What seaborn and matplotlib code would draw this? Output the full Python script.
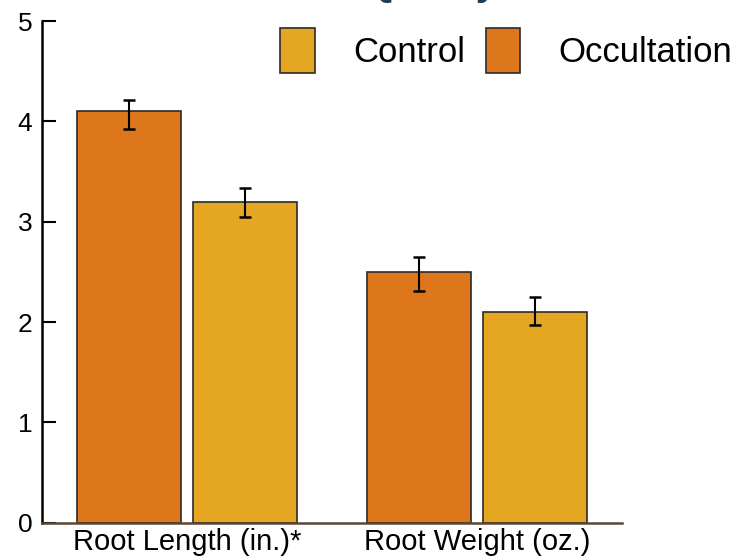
import numpy as np
import pandas as pd
import matplotlib
matplotlib.use("Agg")
import matplotlib.pyplot as plt
from matplotlib.patches import Patch
import seaborn as sns

# values
measures = ["Root Length (in.)*", "Root Weight (oz.)"]
treatments = ["Occultation", "Control"]
occultation = [4.10, 2.50]
control = [3.20, 2.10]
# error bar bounds (low, high)
occultation_lo = [3.92, 2.31]
occultation_hi = [4.21, 2.65]
control_lo = [3.05, 1.97]
control_hi = [3.34, 2.25]

colors = {"Occultation": "#DE761C", "Control": "#E5A722"}

df = pd.DataFrame({
    "measure": measures * 2,
    "treatment": ["Occultation"] * 2 + ["Control"] * 2,
    "value": occultation + control,
    "lo": occultation_lo + control_lo,
    "hi": occultation_hi + control_hi,
})

sns.set_style("white")
plt.rcParams["font.family"] = ["Liberation Sans", "DejaVu Sans"]
plt.rcParams["text.color"] = "black"
plt.rcParams["xtick.color"] = "black"
plt.rcParams["ytick.color"] = "black"

fig = plt.figure(figsize=(7.47, 5.57), dpi=100)
ax = fig.add_axes([42 / 747, 1 - 522.7 / 557, 580 / 747, 501.7 / 557])

sns.barplot(data=df, x="measure", y="value", hue="treatment",
            hue_order=treatments, order=measures, palette=colors,
            saturation=1, width=0.8, gap=0.1, errorbar=None,
            edgecolor="#2b2b2b", linewidth=1.2, legend=False, ax=ax)

# asymmetric error bars on each bar
for cont, t in zip(ax.containers, treatments):
    sub = df[df["treatment"] == t].set_index("measure").loc[measures]
    xs = [p.get_x() + p.get_width() / 2 for p in cont.patches]
    ys = [p.get_height() for p in cont.patches]
    yerr = [sub["value"] - sub["lo"], sub["hi"] - sub["value"]]
    ax.errorbar(xs, ys, yerr=yerr, fmt="none", ecolor="black",
                elinewidth=1.5, capsize=4, capthick=1.8, zorder=5)

ax.set_xlim(-0.5, 1.5)
ax.set_ylim(0, 5)
ax.set_yticks([0, 1, 2, 3, 4, 5])
ax.set_xlabel("")
ax.set_ylabel("")

# labels sit on minor ticks, group separators are major ticks
ax.set_xticks([0.5, 1.5])
ax.set_xticklabels([])
ax.set_xticks([0, 1], minor=True)
ax.set_xticklabels(measures, minor=True, fontsize=21)
ax.tick_params(axis="x", which="major", direction="in", length=8, width=1.5, color="black")
ax.tick_params(axis="x", which="minor", length=0, pad=4)
ax.tick_params(axis="y", direction="in", length=10, width=1.5, labelsize=19, pad=7, left=True)

for s in ["top", "right"]:
    ax.spines[s].set_visible(False)
ax.spines["left"].set_color("black")
ax.spines["left"].set_linewidth(1.8)
ax.spines["bottom"].set_color("#5C4632")
ax.spines["bottom"].set_linewidth(1.8)

handles = [Patch(facecolor=colors[t], edgecolor="#2b2b2b", linewidth=1.2) for t in ["Control", "Occultation"]]
fig.legend(handles, ["Control", "Occultation"], loc="upper left",
           bbox_to_anchor=(280 / 747, 1 - 28 / 557), ncol=2, frameon=False,
           fontsize=25, handlelength=1.0, handleheight=1.6, handletextpad=1.1,
           columnspacing=0.6, borderpad=0, borderaxespad=0)

# title mostly cut off at the top edge
fig.text(497 / 747, 1 + 5 / 557, "Root Quality", ha="right", va="baseline",
         fontsize=28, fontweight="bold", color="#1F3A56")

fig.savefig("out.png", dpi=100)
